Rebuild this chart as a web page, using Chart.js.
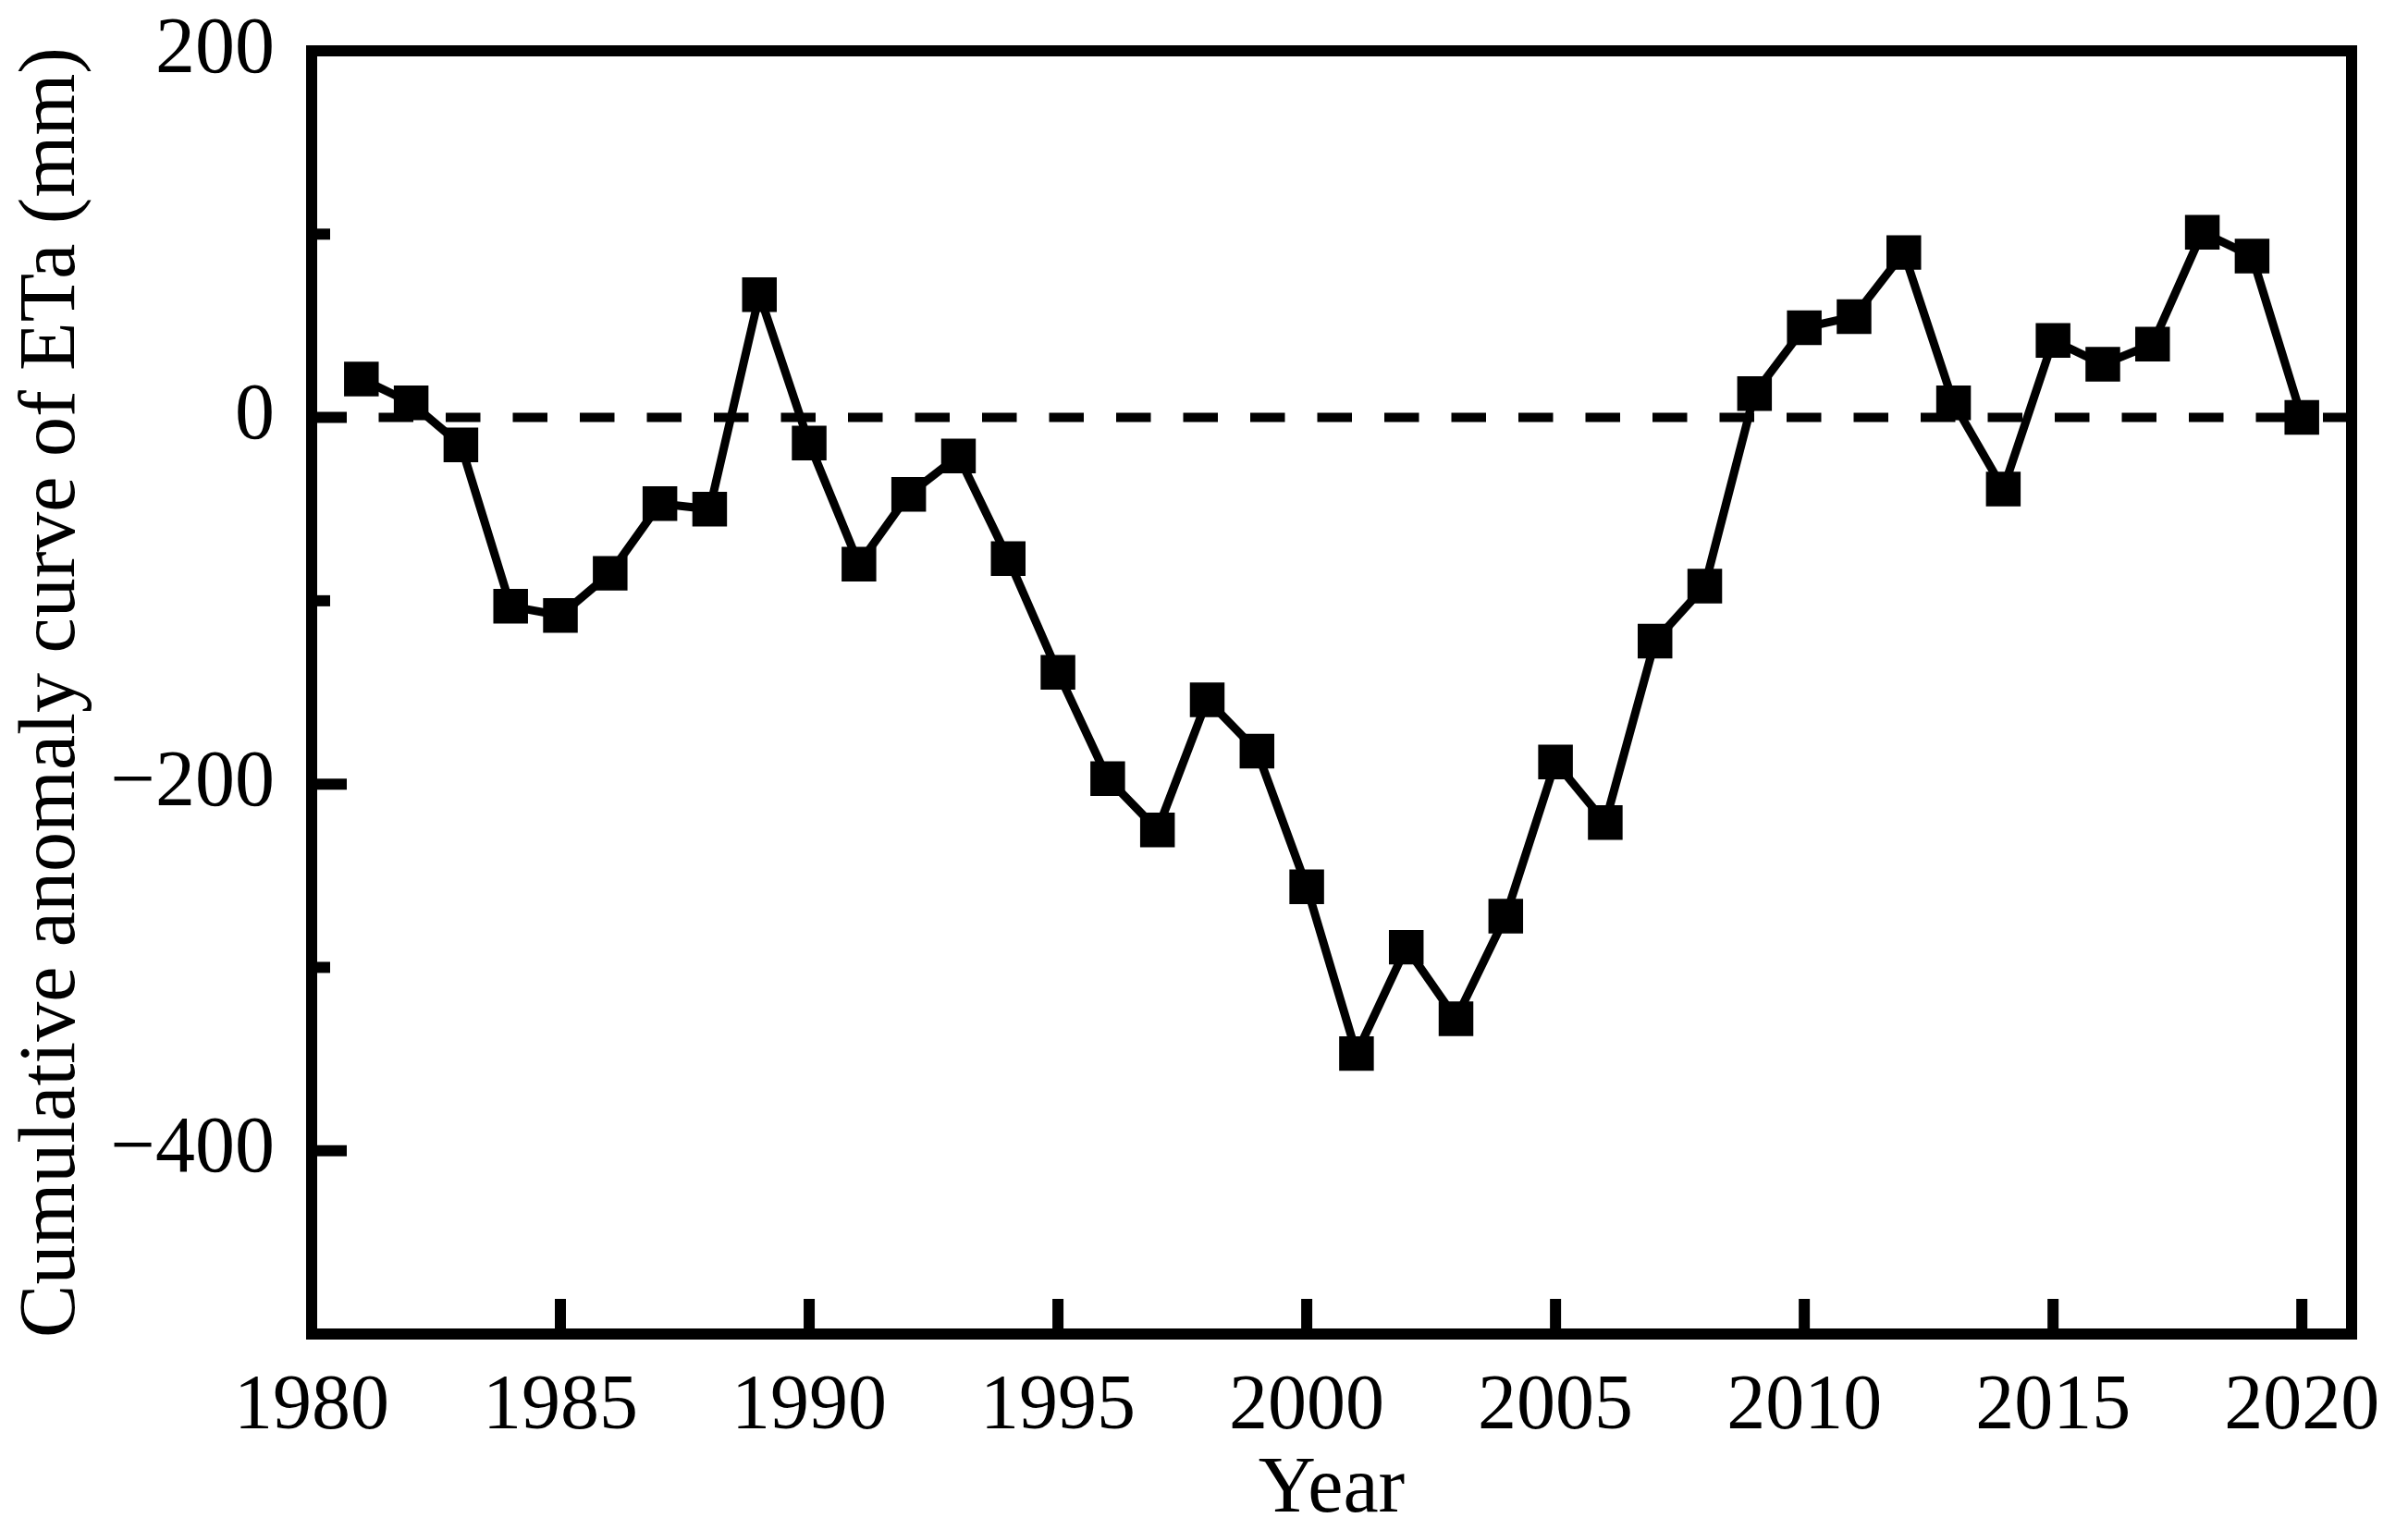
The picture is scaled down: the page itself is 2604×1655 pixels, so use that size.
<!DOCTYPE html>
<html>
<head>
<meta charset="utf-8">
<script src="https://cdn.jsdelivr.net/npm/chart.js@4.4.1/dist/chart.umd.min.js"></script>
<style>
    html, body { margin: 0; padding: 0; background: #fff; }
    #wrap { width: 2604px; height: 1655px; }
</style>
</head>
<body>
<div id="wrap"><canvas id="chart" width="2604" height="1655"></canvas></div>
<script>
    // years and cumulative anomaly of ETa (mm)
    const years = [1981, 1982, 1983, 1984, 1985, 1986, 1987, 1988, 1989, 1990,
                   1991, 1992, 1993, 1994, 1995, 1996, 1997, 1998, 1999, 2000,
                   2001, 2002, 2003, 2004, 2005, 2006, 2007, 2008, 2009, 2010,
                   2011, 2012, 2013, 2014, 2015, 2016, 2017, 2018, 2019, 2020];
    const anomaly = [21, 8, -15, -103, -108, -85, -47, -50, 67, -14,
                     -80, -42, -21, -77, -139, -197, -225, -154, -182, -256,
                     -347, -289, -328, -272, -188, -221, -122, -92, 13, 49,
                     55, 90, 8, -39, 42, 29, 40, 101, 88, 0];
    const xRange = [1980, 2021];
    const xTicks = [1980, 1985, 1990, 1995, 2000, 2005, 2010, 2015, 2020];
    const yRange = [-500, 200];
    const yMajorTicks = [-400, -200, 0, 200];
    const yMinorTicks = [-300, -100, 100];
    const refLine = [0, 0];

    const fontFamily = "'Liberation Serif', 'Times New Roman', serif";

    // frame + inward ticks, drawn with the scales' own pixel mapping
    const framePlugin = {
        id: "frame",
        afterDraw(chart) {
            const ctx = chart.ctx;
            const area = chart.chartArea;
            const xs = chart.scales.x;
            const ys = chart.scales.y;
            ctx.save();
            ctx.strokeStyle = "#000";
            ctx.lineWidth = 12;
            ctx.lineCap = "butt";
            xTicks.forEach(v => {
                const px = xs.getPixelForValue(v);
                if (px <= area.left + 1 || px >= area.right - 1) return;
                ctx.beginPath();
                ctx.moveTo(px, area.bottom);
                ctx.lineTo(px, area.bottom - 38);
                ctx.stroke();
            });
            yMajorTicks.forEach(v => {
                const py = ys.getPixelForValue(v);
                ctx.beginPath();
                ctx.moveTo(area.left, py);
                ctx.lineTo(area.left + 38, py);
                ctx.stroke();
            });
            yMinorTicks.forEach(v => {
                const py = ys.getPixelForValue(v);
                ctx.beginPath();
                ctx.moveTo(area.left, py);
                ctx.lineTo(area.left + 20, py);
                ctx.stroke();
            });
            ctx.lineJoin = "miter";
            ctx.strokeRect(area.left, area.top, area.right - area.left, area.bottom - area.top);
            ctx.restore();
        }
    };

    new Chart(document.getElementById("chart"), {
        type: "line",
        data: {
            datasets: [
                {
                    data: years.map((y, i) => ({ x: y, y: anomaly[i] })),
                    borderColor: "#000",
                    borderWidth: 9,
                    pointStyle: "rect",
                    pointRadius: 26.5,
                    pointBorderWidth: 0,
                    pointBackgroundColor: "#000",
                    tension: 0
                },
                {
                    data: xRange.map((y, i) => ({ x: y, y: refLine[i] })),
                    borderColor: "#000",
                    borderWidth: 10,
                    borderDash: [37.5, 35],
                    pointRadius: 0
                }
            ]
        },
        options: {
            responsive: false,
            animation: false,
            devicePixelRatio: 1,
            layout: { padding: { top: 55, right: 61, left: 0, bottom: 0 } },
            plugins: { legend: { display: false }, tooltip: { enabled: false } },
            scales: {
                x: {
                    type: "linear",
                    min: xRange[0],
                    max: xRange[1],
                    grid: { display: false, drawTicks: false },
                    border: { display: false },
                    ticks: {
                        padding: 30,
                        color: "#000",
                        maxRotation: 0,
                        autoSkip: false,
                        font: { family: fontFamily, size: 84 },
                        callback: v => String(v)
                    },
                    afterBuildTicks: scale => {
                        scale.ticks = xTicks.map(v => ({ value: v }));
                    },
                    afterFit: scale => {
                        scale.height = 212;
                        scale.paddingLeft = 0;
                        scale.paddingRight = 0;
                    },
                    title: {
                        display: true,
                        text: "Year",
                        color: "#000",
                        padding: 0,
                        font: { family: fontFamily, size: 86, lineHeight: 1 }
                    }
                },
                y: {
                    min: yRange[0],
                    max: yRange[1],
                    grid: { display: false, drawTicks: false },
                    border: { display: false },
                    ticks: {
                        padding: 40,
                        color: "#000",
                        font: { family: fontFamily, size: 86 },
                        callback: v => (v < 0 ? "\u2212" + Math.abs(v) : String(v))
                    },
                    afterBuildTicks: scale => {
                        scale.ticks = yMajorTicks.map(v => ({ value: v }));
                    },
                    afterFit: scale => {
                        scale.width = 337;
                        scale.paddingTop = 0;
                        scale.paddingBottom = 0;
                    },
                    title: {
                        display: true,
                        text: "Cumulative anomaly curve of ETa (mm)",
                        color: "#000",
                        padding: { top: 14, bottom: 0 },
                        font: { family: fontFamily, size: 86, lineHeight: 1 }
                    }
                }
            }
        },
        plugins: [framePlugin]
    });
</script>
</body>
</html>
